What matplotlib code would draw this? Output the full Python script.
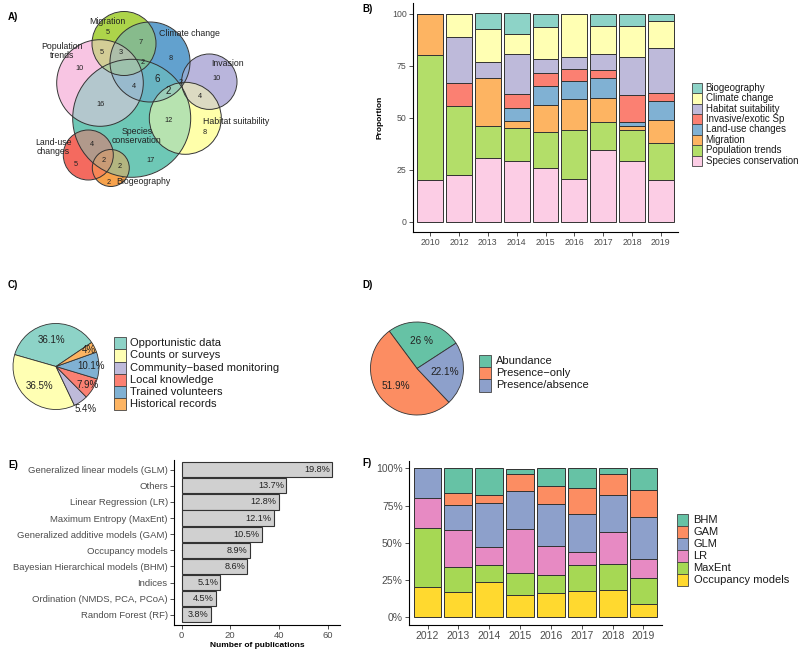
import numpy as np
import matplotlib
matplotlib.use("Agg")
import matplotlib.pyplot as plt
from matplotlib.patches import Circle, Rectangle
from matplotlib.colors import to_rgb
from matplotlib.ticker import FuncFormatter

plt.rcParams['font.family'] = ['Liberation Sans', 'DejaVu Sans']

W, H = 800, 650
GREY = "#4D4D4D"
EDGE = "#333333"

# ---------------- data ----------------
# A) Euler diagram of study topics
venn_sets = ["Migration", "Climate change", "Population\ntrends", "Species\nconservation",
             "Invasion", "Habitat suitability", "Land-use\nchanges", "Biogeography"]
venn_colors = ["#ADD54A", "#62A1CE", "#F9C6E4", "#6FC8B6",
               "#B9B5DC", "#FFFFAA", "#F56A60", "#F7A24C"]
venn_counts = [5, 7, 8, 10, 5, 3, 2, 6, 4, 16, 2, 2, 10, 4, 12, 8, 17, 4, 5, 2, 2, 2]

# B) topics per year (proportion), stacked bottom -> top
years_b = ["2010", "2012", "2013", "2014", "2015", "2016", "2017", "2018", "2019"]
topics = ["Species conservation", "Population trends", "Migration", "Land-use changes",
          "Invasive/exotic Sp", "Habitat suitability", "Climate change", "Biogeography"]
topic_colors = ["#FCCDE5", "#B3DE69", "#FDB462", "#80B1D3",
                "#FB8072", "#BEBADA", "#FFFFB3", "#8DD3C7"]
species_cons = [20, 22.2, 30.8, 29.0, 25.8, 20.4, 34.4, 29.2, 20.1]
pop_trends = [60, 33.3, 15.4, 16.1, 17.4, 23.6, 13.4, 14.7, 17.7]
migration = [20, 0, 23.1, 3.2, 12.9, 14.9, 11.5, 1.9, 11.0]
land_use = [0, 0, 0, 6.5, 9.0, 8.9, 9.6, 1.9, 9.1]
invasive = [0, 11.1, 0, 6.5, 6.4, 5.6, 3.8, 13.1, 3.8]
habitat = [0, 22.2, 7.7, 19.4, 6.5, 5.9, 8.0, 18.6, 21.7]
climate = [0, 11.1, 15.4, 9.7, 15.5, 20.7, 13.2, 14.9, 13.3]
biogeo = [0, 0, 7.7, 9.7, 6.5, 0, 6.1, 5.7, 3.3]

# C) data sources
sources = ["Opportunistic data", "Counts or surveys", "Community\u2212based monitoring",
           "Local knowledge", "Trained volunteers", "Historical records"]
source_pct = [36.1, 36.5, 5.4, 7.9, 10.1, 4.0]
source_lab = ["36.1%", "36.5%", "5.4%", "7.9%", "10.1%", "4%"]
source_colors = ["#8DD3C7", "#FFFFB3", "#BEBADA", "#FB8072", "#80B1D3", "#FDB462"]

# D) data type
dtypes = ["Abundance", "Presence\u2212only", "Presence/absence"]
dtype_pct = [26.0, 51.9, 22.1]
dtype_lab = ["26 %", "51.9%", "22.1%"]
dtype_colors = ["#66C2A5", "#FC8D62", "#8DA0CB"]

# E) methods
methods = ["Generalized linear models (GLM)", "Others", "Linear Regression (LR)",
           "Maximum Entropy (MaxEnt)", "Generalized additive models (GAM)", "Occupancy models",
           "Bayesian Hierarchical models (BHM)", "Indices", "Ordination (NMDS, PCA, PCoA)",
           "Random Forest (RF)"]
method_n = [62, 43, 40, 38, 33, 28, 27, 16, 14, 12]
method_lab = ["19.8%", "13.7%", "12.8%", "12.1%", "10.5%", "8.9%", "8.6%", "5.1%", "4.5%", "3.8%"]

# F) methods per year, stacked bottom -> top
years_f = ["2012", "2013", "2014", "2015", "2016", "2017", "2018", "2019"]
models = ["Occupancy models", "MaxEnt", "LR", "GLM", "GAM", "BHM"]
model_colors = ["#FFD92F", "#A6D854", "#E78AC3", "#8DA0CB", "#FC8D62", "#66C2A5"]
occupancy = [20, 16.7, 23.5, 14.8, 16, 17.4, 17.9, 8.7]
maxent = [40, 16.7, 11.8, 14.8, 12, 17.4, 17.9, 17.4]
lr = [20, 25, 11.8, 29.6, 20, 8.7, 21.4, 13.0]
glm = [20, 16.7, 29.4, 25.9, 28, 26.1, 25, 28.0]
gam = [0, 8.3, 5.9, 11.1, 12, 17.4, 14.3, 18.1]
bhm = [0, 16.7, 17.6, 3.7, 12, 13.0, 3.6, 14.8]

# ---------------- layout (pixels) ----------------
venn_circles = [(124, 43.5, 32), (150, 62, 40), (100, 83, 43.3), (131.7, 118.3, 59),
                (209.3, 81.7, 27.7), (185.3, 118.3, 36), (88.3, 155, 25), (110.8, 168, 18.5)]
venn_name_pos = [(107, 22), (189, 33), (62, 51), (137, 136),
                 (228, 64), (236, 122), (53, 147), (143, 182)]
venn_count_pos = [(108, 32), (141, 42), (171, 58), (80, 68), (102, 52), (121, 53), (143, 62),
                  (157, 79), (134, 86), (101, 104), (168, 91), (181, 83), (217, 78), (200, 97),
                  (169, 121), (205, 132), (151, 161), (92, 144), (76, 164), (104, 160),
                  (120, 166), (109, 182)]

fig = plt.figure(figsize=(W / 100, H / 100), dpi=100)
fig.patch.set_facecolor("white")


def add_ax(x0, y0, x1, y1):
    return fig.add_axes([x0 / W, 1 - y1 / H, (x1 - x0) / W, (y1 - y0) / H])


def classic(ax, fs):
    for s in ["top", "right"]:
        ax.spines[s].set_visible(False)
    for s in ["left", "bottom"]:
        ax.spines[s].set_linewidth(0.8)
        ax.spines[s].set_color("black")
    ax.tick_params(length=3, width=0.6, color=EDGE, labelsize=fs, labelcolor=GREY, pad=1.5)


# ---- A) Euler diagram ----
axA = add_ax(0, 0, 270, 200)
res = 4
gx = np.arange(0, 270, 1 / res) + 0.5 / res
gy = np.arange(0, 200, 1 / res) + 0.5 / res
X, Y = np.meshgrid(gx, gy)
acc = np.zeros(X.shape + (3,))
cnt = np.zeros(X.shape)
for (cx, cy, r), col in zip(venn_circles, venn_colors):
    m = (X - cx) ** 2 + (Y - cy) ** 2 <= r ** 2
    acc[m] += np.array(to_rgb(col))
    cnt[m] += 1
img = np.ones(X.shape + (4,))
img[..., :3] = np.where(cnt[..., None] > 0, acc / np.maximum(cnt, 1)[..., None], 1.0)
img[..., 3] = (cnt > 0).astype(float)
axA.imshow(img, extent=(0, 270, 200, 0), interpolation="bilinear")
for (cx, cy, r) in venn_circles:
    axA.add_patch(Circle((cx, cy), r, fill=False, ec=EDGE, lw=0.7))
for name, (x, y) in zip(venn_sets, venn_name_pos):
    axA.text(x, y, name, fontsize=6.3, ha="center", va="center", color="#222222", linespacing=1.0)
for i, (c, (x, y)) in enumerate(zip(venn_counts, venn_count_pos)):
    fs = 7 if i in (7, 10) else 5.3
    axA.text(x, y, str(c), fontsize=fs, ha="center", va="center", color="#222222")
axA.set_xlim(0, 270)
axA.set_ylim(200, 0)
axA.axis("off")

# ---- B) stacked topics ----
axB = add_ax(413, 3.3, 678, 232)
xb = np.arange(1, len(years_b) + 1)
bottom = np.zeros(len(years_b))
for vals, col in zip([species_cons, pop_trends, migration, land_use, invasive, habitat, climate, biogeo],
                     topic_colors):
    v = np.array(vals, dtype=float)
    axB.bar(xb, v, 0.9, bottom=bottom, color=col, edgecolor=EDGE, linewidth=0.7)
    bottom += v
axB.set_xlim(0.4, len(years_b) + 0.6)
axB.set_ylim(-5, 105)
axB.set_xticks(xb)
axB.set_xticklabels(years_b)
axB.set_yticks([0, 25, 50, 75, 100])
axB.set_ylabel("Proportion", fontsize=6, fontweight="bold", labelpad=6)
classic(axB, 6.3)

# ---- C) pie sources ----
axC = add_ax(13, 323.5, 99, 409.5)
wedges, _ = axC.pie(source_pct, colors=source_colors, startangle=34, counterclock=True,
                    wedgeprops=dict(edgecolor=EDGE, linewidth=0.6))
lab_r = [0.62, 0.6, 1.2, 0.85, 0.82, 0.85]
for w, lab, r in zip(wedges, source_lab, lab_r):
    a = np.deg2rad((w.theta1 + w.theta2) / 2)
    axC.text(r * np.cos(a), r * np.sin(a), lab, fontsize=7, ha="center", va="center", color="#222222")
axC.set_xlim(-1, 1)
axC.set_ylim(-1, 1)

# ---- D) pie data type ----
axD = add_ax(370.5, 322, 463.5, 415)
wedges, _ = axD.pie(dtype_pct, colors=dtype_colors, startangle=33, counterclock=True,
                    wedgeprops=dict(edgecolor=EDGE, linewidth=0.6))
for w, lab in zip(wedges, dtype_lab):
    a = np.deg2rad((w.theta1 + w.theta2) / 2)
    axD.text(0.6 * np.cos(a), 0.6 * np.sin(a), lab, fontsize=7.2, ha="center", va="center", color="#222222")
axD.set_xlim(-1, 1)
axD.set_ylim(-1, 1)

# ---- E) methods ----
axE = add_ax(174, 460, 340, 624.5)
ye = np.arange(len(methods), 0, -1)
axE.barh(ye, method_n, 0.95, color="#D0D0D0", edgecolor=EDGE, linewidth=0.8)
for y, n, lab in zip(ye, method_n, method_lab):
    axE.annotate(lab, (n, y), xytext=(-1.5, 0), textcoords="offset points",
                 ha="right", va="center", fontsize=6.6, color="#222222")
axE.set_xlim(-3.1, 65.1)
axE.set_ylim(0.4, len(methods) + 0.6)
axE.set_yticks(ye)
axE.set_yticklabels(methods)
axE.set_xticks([0, 20, 40, 60])
axE.set_xlabel("Number of publications", fontsize=6, fontweight="bold", labelpad=1.5)
classic(axE, 6.8)

# ---- F) methods per year ----
axF = add_ax(409, 461, 662, 624.5)
xf = np.arange(1, len(years_f) + 1)
bottom = np.zeros(len(years_f))
for vals, col in zip([occupancy, maxent, lr, glm, gam, bhm], model_colors):
    v = np.array(vals, dtype=float)
    axF.bar(xf, v, 0.9, bottom=bottom, color=col, edgecolor=EDGE, linewidth=0.7)
    bottom += v
axF.set_xlim(0.4, len(years_f) + 0.6)
axF.set_ylim(-5, 105)
axF.set_xticks(xf)
axF.set_xticklabels(years_f)
axF.set_yticks([0, 25, 50, 75, 100])
axF.yaxis.set_major_formatter(FuncFormatter(lambda v, p: f"{v:.0f}%"))
classic(axF, 7.5)

# ---- overlay: legends and panel tags ----
ov = fig.add_axes([0, 0, 1, 1], facecolor="none")
ov.set_xlim(0, W)
ov.set_ylim(H, 0)
ov.axis("off")


def legend_px(labels, colors, x, y, kw, kh, fs, gap=4):
    for i, (lab, col) in enumerate(zip(labels, colors)):
        ov.add_patch(Rectangle((x, y + i * kh), kw, kh, fc=col, ec="#444444", lw=0.6))
        ov.text(x + kw + gap, y + (i + 0.5) * kh, lab, fontsize=fs, ha="left", va="center", color="#1a1a1a")


legend_px(topics[::-1], topic_colors[::-1], 691.7, 82.7, 10, 10.4, 7)
legend_px(sources, source_colors, 114.3, 337.3, 11.7, 12.1, 8)
legend_px(dtypes, dtype_colors, 479, 355, 11.7, 12.2, 8, gap=5)
legend_px(models[::-1], model_colors[::-1], 677, 514, 10.5, 12, 8, gap=6)

for tag, (x, y) in zip(["A)", "B)", "C)", "D)", "E)", "F)"],
                       [(8, 17), (362, 9), (8, 285), (362, 285), (8, 465), (362, 463)]):
    ov.text(x, y, tag, fontsize=7, fontweight="bold", ha="left", va="center")

fig.savefig("out.png", dpi=100, facecolor="white")
